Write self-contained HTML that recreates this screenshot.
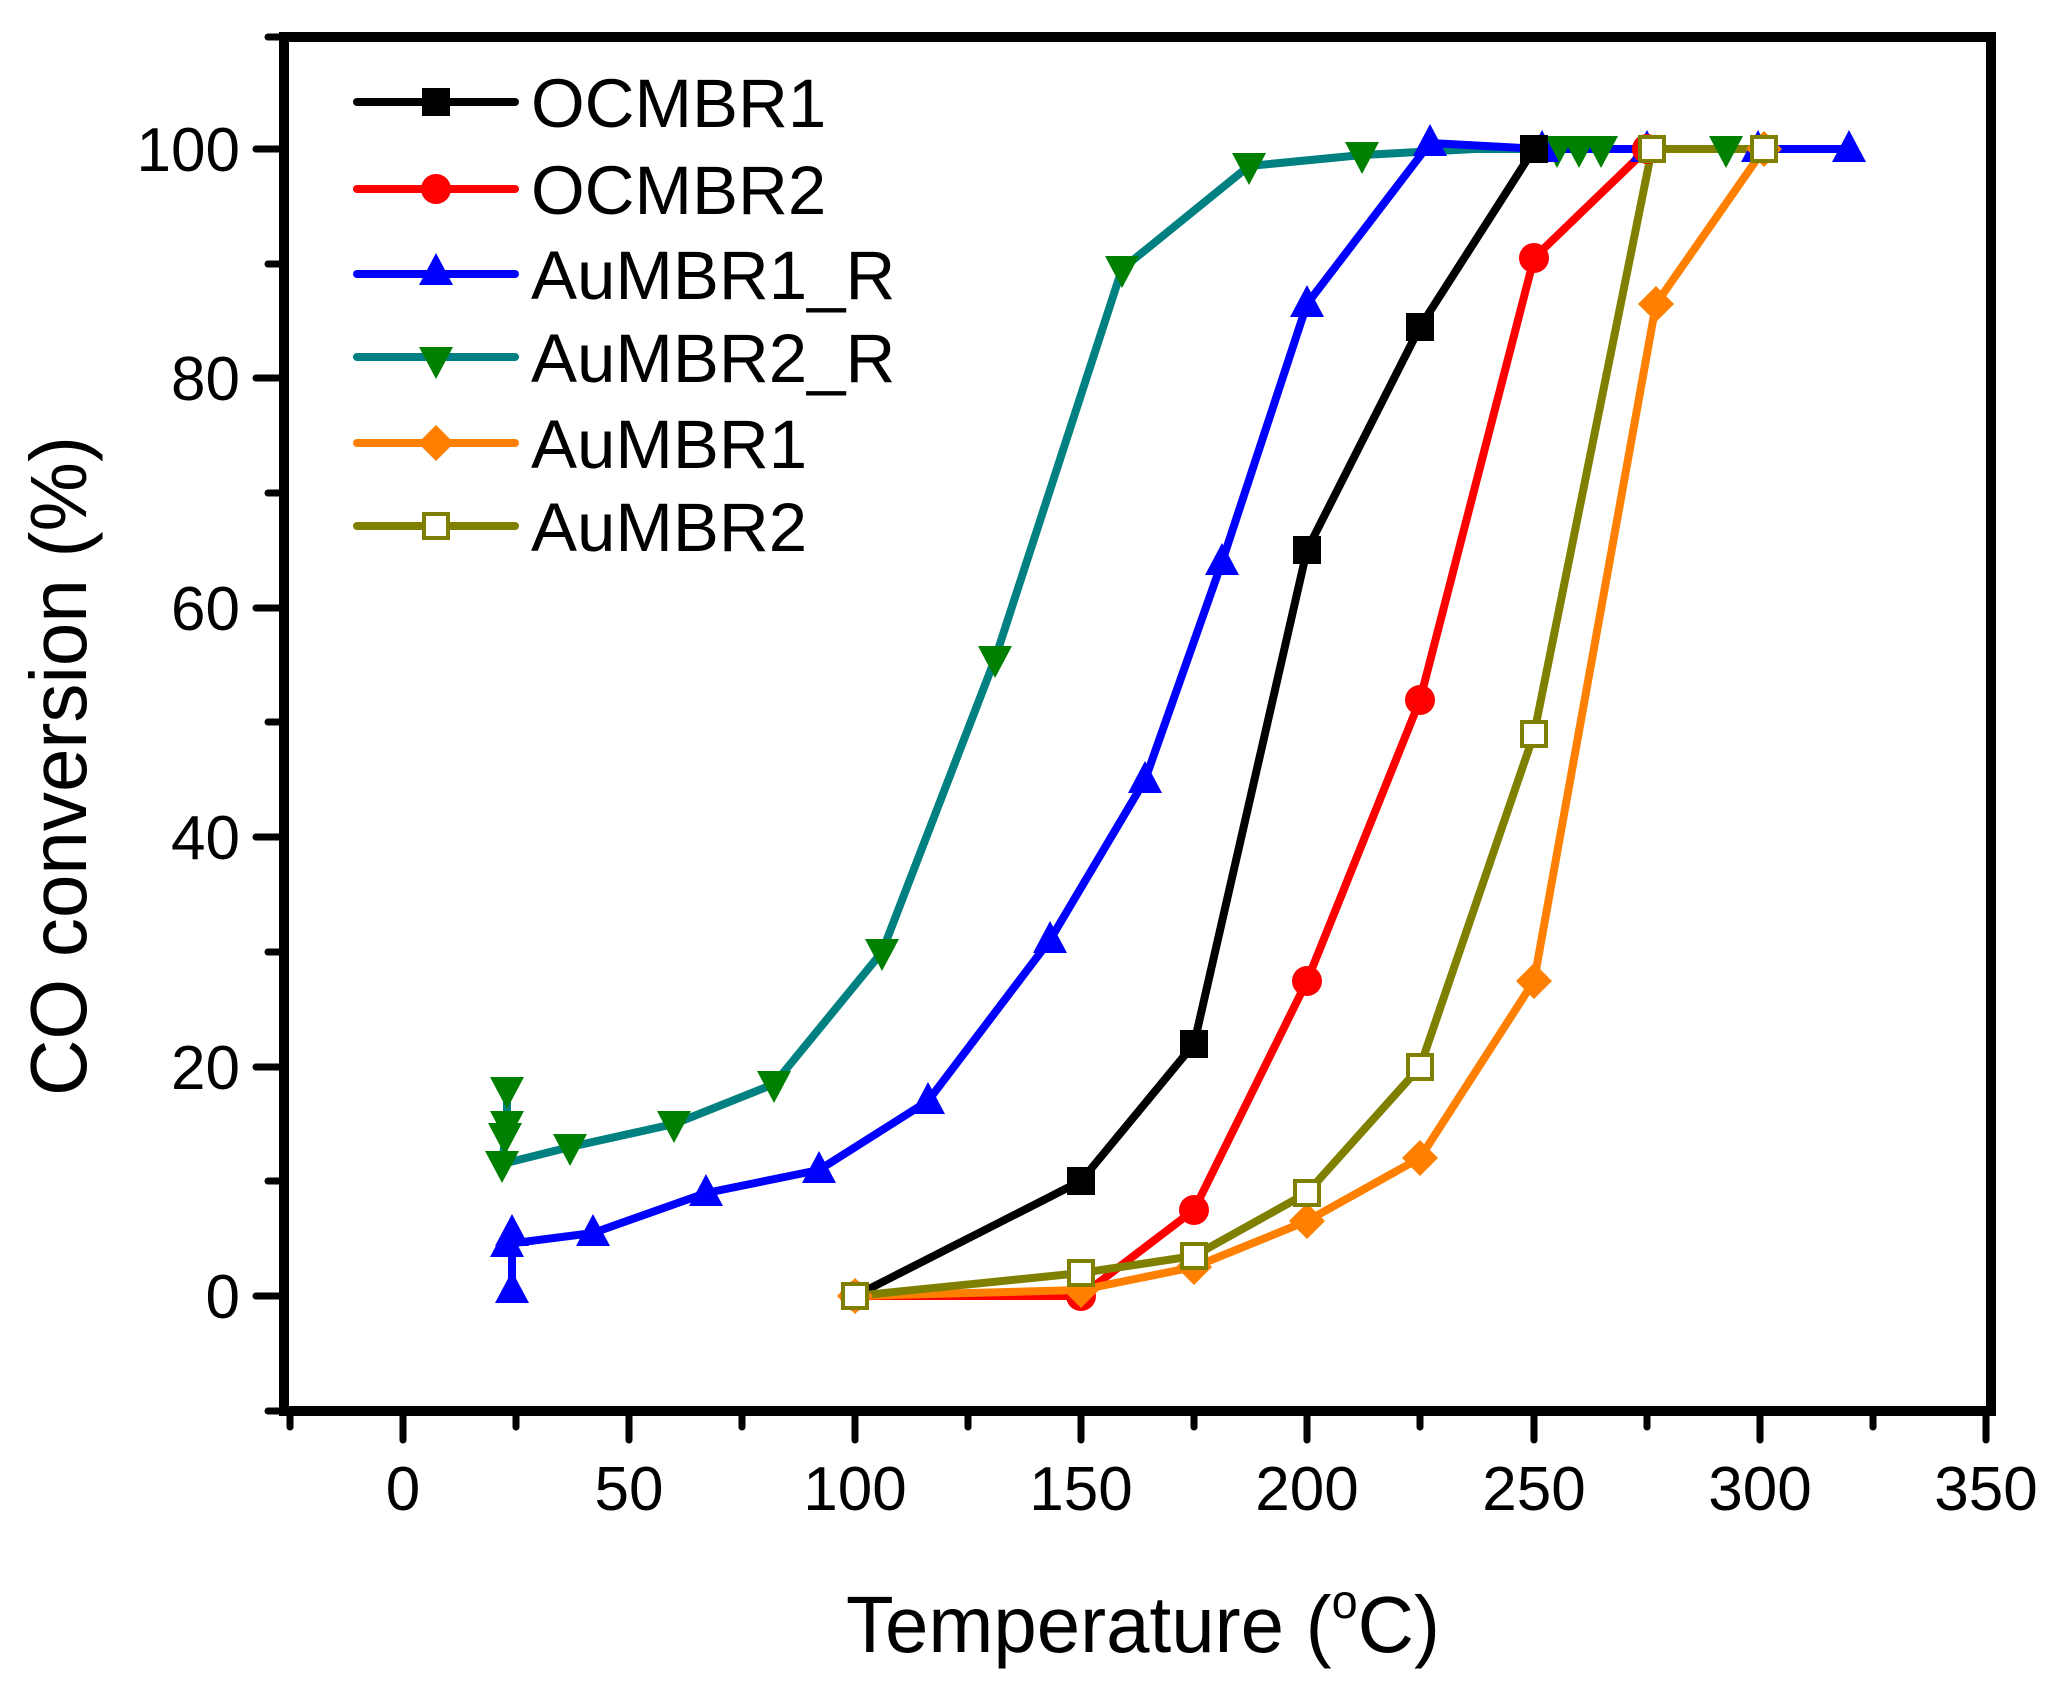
<!DOCTYPE html>
<html><head><meta charset="utf-8"><style>html,body{margin:0;padding:0;background:#fff}svg{display:block}</style></head>
<body>
<svg width="2072" height="1689" viewBox="0 0 2072 1689" xmlns="http://www.w3.org/2000/svg" font-family="Liberation Sans, Arial, sans-serif">
<defs>
<path id="sq" d="M-14,-14h28v28h-28z"/>
<path id="tu" d="M0,-19L17,13H-17Z"/>
<path id="td" d="M0,19L17,-13H-17Z"/>
<path id="dm" d="M0,-18L18,0L0,18L-18,0Z"/>
<path id="osq" d="M-12,-12h24v24h-24z"/>
</defs>
<g fill="none" stroke-width="8" stroke-linejoin="round" stroke-linecap="round">
<polyline stroke="#008080" points="507,1090 507,1124 502,1164 570,1147 674,1124 774,1084 882,952 995,659 1122,269 1249,166 1362,155 1475,149 1557,149 1579,149 1601,149 1726,149 1760,149"/>
<polyline stroke="#0000ff" points="512,1290 512,1233 507,1244 593,1233 706,1193 819,1170 928,1101 1050,940 1145,780 1222,562 1307,304 1430,143 1542,149 1647,149 1758,149 1849,149"/>
<polyline stroke="#000" points="855,1296 1081,1181 1194,1044 1307,550 1420,327 1534,149"/>
<polyline stroke="#ff0000" points="855,1296 1081,1296 1194,1210 1307,981 1420,700 1534,258 1647,149"/>
<polyline stroke="#ff8000" points="855,1296 1081,1290 1194,1267 1307,1221 1420,1158 1534,981 1656,304 1764,149"/>
<polyline stroke="#808000" points="855,1296 1081,1273 1194,1256 1307,1193 1420,1067 1534,734 1652,149 1764,149"/>
</g>
<g fill="#008000">
<use href="#td" x="507" y="1090"/><use href="#td" x="507" y="1124"/><use href="#td" x="505" y="1136"/><use href="#td" x="502" y="1164"/><use href="#td" x="570" y="1147"/><use href="#td" x="674" y="1124"/><use href="#td" x="774" y="1084"/><use href="#td" x="882" y="952"/><use href="#td" x="995" y="659"/><use href="#td" x="1122" y="269"/><use href="#td" x="1249" y="166"/><use href="#td" x="1362" y="155"/><use href="#td" x="1557" y="149"/><use href="#td" x="1579" y="149"/><use href="#td" x="1601" y="149"/><use href="#td" x="1726" y="149"/>
</g>
<g fill="#0000ff">
<use href="#tu" x="512" y="1290"/><use href="#tu" x="512" y="1233"/><use href="#tu" x="507" y="1244"/><use href="#tu" x="593" y="1233"/><use href="#tu" x="706" y="1193"/><use href="#tu" x="819" y="1170"/><use href="#tu" x="928" y="1101"/><use href="#tu" x="1050" y="940"/><use href="#tu" x="1145" y="780"/><use href="#tu" x="1222" y="562"/><use href="#tu" x="1307" y="304"/><use href="#tu" x="1430" y="143"/><use href="#tu" x="1542" y="149"/><use href="#tu" x="1647" y="149"/><use href="#tu" x="1758" y="149"/><use href="#tu" x="1849" y="149"/>
</g>
<g fill="#000"><use href="#sq" x="855" y="1296"/><use href="#sq" x="1081" y="1181"/><use href="#sq" x="1194" y="1044"/><use href="#sq" x="1307" y="550"/><use href="#sq" x="1420" y="327"/><use href="#sq" x="1534" y="149"/></g>
<g fill="#ff0000"><circle cx="855" cy="1296" r="15"/><circle cx="1081" cy="1296" r="15"/><circle cx="1194" cy="1210" r="15"/><circle cx="1307" cy="981" r="15"/><circle cx="1420" cy="700" r="15"/><circle cx="1534" cy="258" r="15"/><circle cx="1647" cy="149" r="15"/></g>
<g fill="#ff8000"><use href="#dm" x="855" y="1296"/><use href="#dm" x="1081" y="1290"/><use href="#dm" x="1194" y="1267"/><use href="#dm" x="1307" y="1221"/><use href="#dm" x="1420" y="1158"/><use href="#dm" x="1534" y="981"/><use href="#dm" x="1656" y="304"/><use href="#dm" x="1764" y="149"/></g>
<g fill="#fff" stroke="#808000" stroke-width="4"><use href="#osq" x="855" y="1296"/><use href="#osq" x="1081" y="1273"/><use href="#osq" x="1194" y="1256"/><use href="#osq" x="1307" y="1193"/><use href="#osq" x="1420" y="1067"/><use href="#osq" x="1534" y="734"/><use href="#osq" x="1652" y="149"/><use href="#osq" x="1764" y="149"/></g>
<rect x="284" y="37" width="1707" height="1374" fill="none" stroke="#000" stroke-width="10"/>
<g stroke="#000" stroke-width="7" stroke-linecap="round">
<line x1="403" y1="1411" x2="403" y2="1440"/><line x1="629" y1="1411" x2="629" y2="1440"/><line x1="855" y1="1411" x2="855" y2="1440"/><line x1="1081" y1="1411" x2="1081" y2="1440"/><line x1="1307" y1="1411" x2="1307" y2="1440"/><line x1="1534" y1="1411" x2="1534" y2="1440"/><line x1="1760" y1="1411" x2="1760" y2="1440"/><line x1="1986" y1="1411" x2="1986" y2="1440"/>
<line x1="290" y1="1411" x2="290" y2="1427"/><line x1="516" y1="1411" x2="516" y2="1427"/><line x1="742" y1="1411" x2="742" y2="1427"/><line x1="968" y1="1411" x2="968" y2="1427"/><line x1="1194" y1="1411" x2="1194" y2="1427"/><line x1="1420" y1="1411" x2="1420" y2="1427"/><line x1="1647" y1="1411" x2="1647" y2="1427"/><line x1="1873" y1="1411" x2="1873" y2="1427"/>
<line x1="284" y1="1296" x2="256" y2="1296"/><line x1="284" y1="1067" x2="256" y2="1067"/><line x1="284" y1="837" x2="256" y2="837"/><line x1="284" y1="608" x2="256" y2="608"/><line x1="284" y1="378" x2="256" y2="378"/><line x1="284" y1="149" x2="256" y2="149"/>
<line x1="284" y1="1411" x2="268" y2="1411"/><line x1="284" y1="1181" x2="268" y2="1181"/><line x1="284" y1="952" x2="268" y2="952"/><line x1="284" y1="722" x2="268" y2="722"/><line x1="284" y1="493" x2="268" y2="493"/><line x1="284" y1="264" x2="268" y2="264"/><line x1="284" y1="37" x2="268" y2="37"/>
</g>
<g font-size="62" text-anchor="middle" fill="#000">
<text x="403" y="1510">0</text><text x="629" y="1510">50</text><text x="855" y="1510">100</text><text x="1081" y="1510">150</text><text x="1307" y="1510">200</text><text x="1534" y="1510">250</text><text x="1760" y="1510">300</text><text x="1986" y="1510">350</text>
</g>
<g font-size="62" text-anchor="end" fill="#000">
<text x="240" y="1318">0</text><text x="240" y="1089">20</text><text x="240" y="859">40</text><text x="240" y="630">60</text><text x="240" y="400">80</text><text x="240" y="171">100</text>
</g>
<text x="846" y="1652" font-size="80" textLength="594" lengthAdjust="spacingAndGlyphs">Temperature (<tspan font-size="48" dy="-34">o</tspan><tspan dy="34">C)</tspan></text>
<text transform="translate(86,766) rotate(-90)" font-size="80" text-anchor="middle" textLength="660" lengthAdjust="spacingAndGlyphs">CO conversion (%)</text>
<g stroke-width="8" stroke-linecap="round">
<line x1="357" y1="102" x2="515" y2="102" stroke="#000"/>
<line x1="357" y1="189" x2="515" y2="189" stroke="#ff0000"/>
<line x1="357" y1="274" x2="515" y2="274" stroke="#0000ff"/>
<line x1="357" y1="357" x2="515" y2="357" stroke="#008080"/>
<line x1="357" y1="443" x2="515" y2="443" stroke="#ff8000"/>
<line x1="357" y1="526" x2="515" y2="526" stroke="#808000"/>
</g>
<use href="#sq" x="436" y="102" fill="#000"/>
<circle cx="436" cy="189" r="15" fill="#ff0000"/>
<use href="#tu" x="436" y="272" fill="#0000ff"/>
<use href="#td" x="436" y="360" fill="#008000"/>
<use href="#dm" x="436" y="443" fill="#ff8000"/>
<use href="#osq" x="436" y="526" fill="#fff" stroke="#808000" stroke-width="4"/>
<g font-size="69" fill="#000">
<text x="531" y="127">OCMBR1</text><text x="531" y="214">OCMBR2</text><text x="531" y="299">AuMBR1_R</text><text x="531" y="382">AuMBR2_R</text><text x="531" y="468">AuMBR1</text><text x="531" y="551">AuMBR2</text>
</g>
</svg>
</body></html>
